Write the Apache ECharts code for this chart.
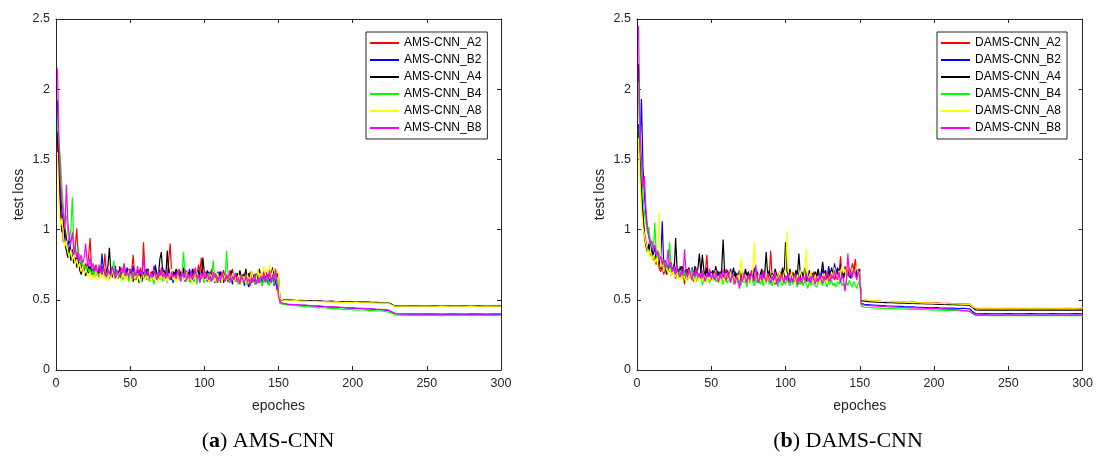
<!DOCTYPE html>
<html>
<head>
<meta charset="utf-8">
<script src="https://cdn.jsdelivr.net/npm/echarts@6/dist/echarts.min.js"></script>
<style>html,body{margin:0;padding:0;background:#fff;}#c{width:1096px;height:456px;}</style>
</head>
<body>
<div id="c"></div>
<script>
// ---------- tick labels / axes ----------
const xTicks = [0, 50, 100, 150, 200, 250, 300];
const yTicks = [0, 0.5, 1, 1.5, 2, 2.5];
const colors = ['#ff0000', '#0000ff', '#000000', '#00ff00', '#ffff00', '#ff00ff'];
const namesLeft = ['AMS-CNN_A2', 'AMS-CNN_B2', 'AMS-CNN_A4', 'AMS-CNN_B4', 'AMS-CNN_A8', 'AMS-CNN_B8'];
const namesRight = ['DAMS-CNN_A2', 'DAMS-CNN_B2', 'DAMS-CNN_A4', 'DAMS-CNN_B4', 'DAMS-CNN_A8', 'DAMS-CNN_B8'];

// epochs after 150 at which the (almost flat) tail values were read
const tailX = [151,153,156,159,162,165,168,171,174,177,180,183,186,189,192,195,198,201,204,207,210,213,216,219,222,
  224,226,228,230,
  235,240,245,250,255,260,265,270,275,280,285,290,295,300];

// ---------- (a) AMS-CNN, epochs 1..150 ----------
const L_A2 = [1.65,1.32,1.18,1.05,0.91,1.02,0.95,0.86,0.80,0.84,
0.78,0.82,0.88,1.01,0.79,0.74,0.77,0.72,0.70,0.76,
0.73,0.81,0.94,0.70,0.68,0.72,0.75,0.69,0.71,0.67,
0.74,0.70,0.83,0.68,0.72,0.66,0.70,0.73,0.67,0.69,
0.71,0.65,0.74,0.68,0.70,0.76,0.66,0.69,0.72,0.67,
0.70,0.82,0.68,0.64,0.71,0.67,0.73,0.65,0.91,0.69,
0.66,0.72,0.68,0.70,0.64,0.74,0.67,0.69,0.65,0.71,
0.68,0.73,0.66,0.70,0.64,0.78,0.90,0.67,0.70,0.65,
0.69,0.66,0.72,0.64,0.68,0.70,0.65,0.71,0.67,0.63,
0.69,0.66,0.72,0.68,0.64,0.75,0.70,0.80,0.67,0.65,
0.70,0.66,0.63,0.69,0.72,0.65,0.68,0.64,0.70,0.66,
0.62,0.68,0.71,0.65,0.67,0.63,0.69,0.66,0.72,0.64,
0.68,0.65,0.62,0.70,0.66,0.64,0.69,0.63,0.67,0.65,
0.70,0.62,0.66,0.68,0.63,0.67,0.64,0.69,0.62,0.66,
0.68,0.63,0.65,0.70,0.64,0.67,0.62,0.66,0.69,0.65];
const L_B2 = [1.92,1.55,1.30,1.12,1.05,0.98,0.92,0.88,0.95,0.83,
0.86,0.80,0.76,0.82,0.74,0.78,0.72,0.75,0.70,0.73,
0.69,0.74,0.71,0.68,0.72,0.66,0.70,0.67,0.73,0.69,
0.83,0.70,0.66,0.71,0.68,0.65,0.72,0.69,0.67,0.74,
0.66,0.70,0.68,0.64,0.71,0.67,0.69,0.73,0.65,0.70,
0.68,0.74,0.66,0.69,0.65,0.71,0.68,0.63,0.70,0.67,
0.72,0.66,0.69,0.64,0.70,0.67,0.75,0.65,0.68,0.71,
0.66,0.69,0.64,0.70,0.67,0.73,0.65,0.68,0.62,0.69,
0.71,0.66,0.68,0.64,0.70,0.67,0.63,0.69,0.66,0.72,
0.65,0.68,0.63,0.70,0.66,0.69,0.64,0.71,0.67,0.65,
0.68,0.63,0.70,0.66,0.64,0.69,0.62,0.67,0.65,0.70,
0.64,0.67,0.62,0.68,0.65,0.63,0.69,0.66,0.61,0.67,
0.64,0.68,0.62,0.66,0.63,0.67,0.60,0.65,0.62,0.59,
0.66,0.63,0.68,0.61,0.65,0.62,0.67,0.64,0.60,0.66,
0.63,0.67,0.61,0.65,0.62,0.68,0.60,0.64,0.57,0.63];
const L_A4 = [1.70,1.40,1.10,0.98,1.08,0.90,0.85,0.80,0.88,0.78,
0.82,0.76,0.80,0.73,0.77,0.71,0.68,0.74,0.70,0.67,
0.72,0.69,0.74,0.70,0.67,0.73,0.69,0.71,0.66,0.70,
0.68,0.72,0.67,0.70,0.74,0.87,0.69,0.66,0.71,0.68,
0.70,0.66,0.73,0.67,0.69,0.65,0.71,0.68,0.66,0.72,
0.67,0.63,0.69,0.66,0.71,0.62,0.68,0.70,0.65,0.69,
0.66,0.72,0.68,0.64,0.70,0.67,0.73,0.69,0.66,0.79,
0.84,0.68,0.71,0.66,0.85,0.69,0.67,0.64,0.70,0.67,
0.72,0.68,0.65,0.70,0.67,0.73,0.66,0.69,0.64,0.70,
0.67,0.72,0.65,0.69,0.66,0.71,0.68,0.65,0.80,0.69,
0.66,0.71,0.67,0.64,0.70,0.66,0.69,0.63,0.68,0.65,
0.70,0.66,0.63,0.69,0.65,0.68,0.64,0.71,0.66,0.67,
0.63,0.69,0.65,0.71,0.64,0.68,0.66,0.72,0.65,0.69,
0.64,0.70,0.66,0.63,0.69,0.65,0.72,0.67,0.64,0.70,
0.66,0.71,0.65,0.69,0.67,0.73,0.68,0.64,0.70,0.66];
const L_B4 = [1.75,1.62,1.50,1.30,1.15,1.05,1.10,0.98,0.92,1.00,
1.23,0.90,0.85,0.80,0.88,0.76,0.79,0.73,0.75,0.71,
0.74,0.70,0.72,0.68,0.71,0.66,0.73,0.69,0.67,0.70,
0.66,0.69,0.72,0.67,0.70,0.65,0.68,0.71,0.78,0.66,
0.69,0.65,0.70,0.67,0.64,0.71,0.66,0.68,0.63,0.69,
0.66,0.70,0.64,0.67,0.69,0.65,0.62,0.68,0.66,0.70,
0.64,0.67,0.63,0.69,0.66,0.61,0.68,0.65,0.70,0.64,
0.67,0.63,0.69,0.66,0.62,0.68,0.65,0.70,0.64,0.67,
0.63,0.69,0.66,0.64,0.70,0.84,0.67,0.63,0.68,0.65,
0.62,0.67,0.64,0.69,0.61,0.66,0.63,0.68,0.65,0.62,
0.67,0.64,0.69,0.63,0.66,0.78,0.65,0.62,0.68,0.64,
0.66,0.63,0.68,0.65,0.85,0.66,0.62,0.67,0.64,0.69,
0.63,0.66,0.61,0.68,0.64,0.62,0.67,0.65,0.60,0.66,
0.63,0.68,0.64,0.61,0.66,0.62,0.67,0.64,0.60,0.65,
0.62,0.67,0.63,0.60,0.66,0.64,0.61,0.67,0.63,0.65];
const L_A8 = [1.55,1.20,1.02,1.08,0.95,0.88,0.92,0.84,0.80,0.86,
0.78,0.82,0.75,0.79,0.73,0.76,0.70,0.74,0.68,0.72,
0.69,0.66,0.70,0.64,0.68,0.65,0.71,0.67,0.64,0.69,
0.66,0.70,0.64,0.68,0.63,0.69,0.66,0.72,0.65,0.67,
0.64,0.69,0.66,0.63,0.70,0.65,0.68,0.64,0.71,0.66,
0.63,0.68,0.65,0.70,0.64,0.67,0.62,0.69,0.66,0.64,
0.68,0.65,0.71,0.63,0.67,0.64,0.69,0.66,0.62,0.68,
0.65,0.70,0.64,0.67,0.63,0.69,0.66,0.72,0.64,0.67,
0.62,0.68,0.65,0.63,0.69,0.66,0.64,0.70,0.63,0.67,
0.65,0.61,0.68,0.64,0.70,0.66,0.63,0.69,0.65,0.71,
0.64,0.67,0.62,0.68,0.65,0.70,0.63,0.66,0.69,0.64,
0.67,0.62,0.68,0.65,0.63,0.70,0.66,0.64,0.69,0.62,
0.66,0.63,0.68,0.64,0.61,0.67,0.65,0.62,0.68,0.64,
0.66,0.71,0.63,0.67,0.64,0.72,0.66,0.69,0.65,0.74,
0.67,0.72,0.68,0.75,0.66,0.70,0.73,0.67,0.71,0.68];
const L_B8 = [2.15,1.62,1.35,1.20,1.10,1.00,1.32,1.05,0.95,0.90,
0.98,0.85,0.88,0.80,0.84,0.78,0.82,0.76,0.80,0.90,
0.77,0.74,0.80,0.72,0.76,0.70,0.73,0.69,0.75,0.71,
0.68,0.73,0.70,0.66,0.72,0.69,0.67,0.74,0.70,0.65,
0.71,0.68,0.66,0.73,0.69,0.75,0.67,0.70,0.66,0.72,
0.69,0.65,0.71,0.67,0.74,0.68,0.70,0.66,0.80,0.69,
0.67,0.71,0.65,0.69,0.66,0.72,0.68,0.64,0.70,0.67,
0.73,0.66,0.69,0.65,0.71,0.67,0.64,0.70,0.66,0.68,
0.65,0.71,0.67,0.63,0.69,0.66,0.72,0.64,0.68,0.65,
0.70,0.64,0.67,0.73,0.65,0.68,0.62,0.69,0.66,0.71,
0.65,0.69,0.64,0.67,0.63,0.70,0.66,0.68,0.62,0.67,
0.64,0.70,0.66,0.63,0.68,0.65,0.71,0.62,0.67,0.64,
0.69,0.63,0.66,0.61,0.68,0.64,0.62,0.67,0.63,0.65,
0.60,0.66,0.63,0.68,0.61,0.65,0.62,0.67,0.64,0.70,
0.63,0.68,0.65,0.71,0.62,0.67,0.64,0.72,0.61,0.52];

// (a) tails at tailX
const LT_A2 = [0.500,0.500,0.497,0.495,0.496,0.493,0.492,0.490,0.491,0.489,0.488,0.487,0.488,0.486,0.485,0.484,0.485,0.483,0.482,0.481,0.482,0.480,0.479,0.480,0.478,
0.477,0.468,0.458,0.457,
0.458,0.457,0.456,0.457,0.458,0.456,0.457,0.458,0.457,0.456,0.458,0.457,0.456,0.457];
const LT_B2 = [0.480,0.472,0.468,0.466,0.464,0.462,0.461,0.458,0.456,0.455,0.452,0.450,0.448,0.447,0.445,0.443,0.441,0.440,0.438,0.437,0.435,0.433,0.431,0.430,0.427,
0.425,0.415,0.405,0.400,
0.399,0.398,0.398,0.399,0.398,0.397,0.398,0.398,0.397,0.398,0.398,0.397,0.398,0.398];
const LT_A4 = [0.505,0.500,0.498,0.497,0.495,0.496,0.494,0.493,0.492,0.493,0.490,0.489,0.490,0.488,0.487,0.486,0.487,0.485,0.484,0.483,0.484,0.482,0.481,0.480,0.479,
0.478,0.470,0.457,0.455,
0.456,0.455,0.455,0.456,0.455,0.454,0.455,0.456,0.455,0.454,0.455,0.456,0.455,0.455];
const LT_B4 = [0.475,0.468,0.463,0.460,0.458,0.455,0.452,0.449,0.447,0.443,0.445,0.440,0.437,0.439,0.434,0.430,0.433,0.428,0.426,0.429,0.423,0.425,0.419,0.422,0.416,
0.414,0.405,0.395,0.390,
0.389,0.388,0.389,0.388,0.388,0.387,0.388,0.389,0.388,0.387,0.388,0.388,0.387,0.388];
const LT_A8 = [0.510,0.498,0.495,0.493,0.494,0.491,0.490,0.488,0.489,0.487,0.486,0.485,0.484,0.485,0.483,0.482,0.481,0.482,0.480,0.479,0.478,0.479,0.477,0.476,0.477,
0.476,0.465,0.455,0.454,
0.455,0.454,0.454,0.455,0.454,0.453,0.454,0.455,0.454,0.453,0.454,0.455,0.454,0.454];
const LT_B8 = [0.485,0.474,0.470,0.467,0.465,0.463,0.462,0.459,0.457,0.456,0.454,0.452,0.450,0.449,0.447,0.445,0.444,0.442,0.440,0.439,0.437,0.436,0.433,0.432,0.429,
0.427,0.416,0.404,0.401,
0.400,0.400,0.399,0.400,0.400,0.399,0.400,0.400,0.399,0.400,0.400,0.399,0.400,0.400];

// ---------- (b) DAMS-CNN, epochs 1..150 ----------
const R_A2 = [1.70,1.45,1.25,1.10,0.98,0.92,0.86,0.88,0.84,0.80,
0.83,0.78,0.75,0.80,0.72,0.70,0.74,0.68,0.71,0.76,
0.70,0.73,0.67,0.72,0.69,0.65,0.71,0.68,0.74,0.66,
0.70,0.61,0.68,0.72,0.65,0.69,0.67,0.63,0.70,0.66,
0.69,0.65,0.71,0.67,0.64,0.70,0.82,0.66,0.69,0.64,
0.68,0.65,0.71,0.63,0.67,0.70,0.64,0.68,0.66,0.72,
0.65,0.69,0.63,0.67,0.64,0.70,0.66,0.62,0.68,0.65,
0.70,0.64,0.67,0.62,0.69,0.65,0.71,0.63,0.67,0.64,
0.68,0.62,0.66,0.70,0.64,0.67,0.63,0.69,0.65,0.85,
0.66,0.63,0.68,0.64,0.62,0.67,0.65,0.70,0.63,0.66,
0.64,0.69,0.62,0.66,0.70,0.63,0.67,0.65,0.61,0.68,
0.64,0.66,0.62,0.69,0.65,0.63,0.67,0.64,0.70,0.66,
0.63,0.68,0.65,0.62,0.67,0.64,0.69,0.66,0.63,0.68,
0.65,0.70,0.64,0.67,0.72,0.66,0.81,0.68,0.65,0.74,
0.70,0.67,0.73,0.69,0.76,0.71,0.79,0.68,0.72,0.66];
const R_B2 = [1.75,1.55,1.93,1.45,1.25,1.10,1.00,0.95,0.90,0.86,
0.82,0.88,0.78,0.84,0.76,0.80,1.06,0.74,0.78,0.72,
0.75,0.70,0.73,0.69,0.76,0.71,0.68,0.72,0.67,0.70,
0.74,0.68,0.71,0.66,0.70,0.67,0.73,0.69,0.65,0.71,
0.68,0.66,0.70,0.64,0.69,0.67,0.72,0.65,0.68,0.70,
0.66,0.69,0.64,0.71,0.67,0.65,0.70,0.66,0.68,0.63,
0.69,0.66,0.72,0.64,0.67,0.70,0.65,0.68,0.63,0.69,
0.66,0.64,0.70,0.67,0.63,0.68,0.65,0.71,0.64,0.67,
0.62,0.68,0.65,0.70,0.63,0.66,0.69,0.64,0.67,0.62,
0.68,0.65,0.61,0.67,0.64,0.70,0.66,0.63,0.69,0.65,
0.67,0.63,0.69,0.65,0.62,0.68,0.64,0.71,0.66,0.63,
0.68,0.65,0.70,0.63,0.67,0.64,0.69,0.66,0.62,0.68,
0.65,0.70,0.63,0.67,0.72,0.66,0.69,0.64,0.74,0.68,
0.71,0.66,0.76,0.69,0.73,0.67,0.75,0.70,0.66,0.72,
0.68,0.74,0.70,0.65,0.71,0.68,0.73,0.67,0.70,0.72];
const R_A4 = [2.18,1.60,1.30,1.12,0.95,0.88,0.84,0.90,0.82,0.86,
0.80,0.77,0.83,0.74,0.78,0.72,0.76,0.70,0.74,0.68,
0.72,0.75,0.70,0.73,0.69,0.94,0.72,0.68,0.71,0.74,
0.70,0.67,0.72,0.69,0.73,0.68,0.71,0.66,0.74,0.70,
0.72,0.83,0.69,0.82,0.71,0.67,0.73,0.68,0.70,0.66,
0.71,0.68,0.74,0.67,0.70,0.66,0.72,0.93,0.69,0.67,
0.71,0.66,0.70,0.68,0.73,0.65,0.69,0.67,0.71,0.64,
0.68,0.66,0.72,0.67,0.70,0.64,0.69,0.66,0.73,0.67,
0.70,0.65,0.68,0.72,0.66,0.69,0.84,0.67,0.71,0.65,
0.69,0.66,0.72,0.68,0.64,0.70,0.67,0.73,0.66,0.91,
0.70,0.67,0.72,0.65,0.69,0.66,0.71,0.68,0.83,0.67,
0.70,0.66,0.73,0.68,0.65,0.71,0.67,0.69,0.64,0.70,
0.67,0.72,0.66,0.69,0.77,0.68,0.71,0.65,0.70,0.67,
0.73,0.68,0.71,0.66,0.69,0.72,0.67,0.70,0.65,0.71,
0.68,0.72,0.66,0.70,0.67,0.73,0.69,0.66,0.71,0.68];
const R_B4 = [2.05,1.65,1.42,1.25,1.12,1.05,0.98,1.02,0.92,0.88,
0.85,1.05,0.82,0.79,0.84,0.76,0.80,0.73,0.77,0.71,
0.74,0.91,0.72,0.69,0.73,0.67,0.70,0.66,0.71,0.68,
0.65,0.70,0.67,0.64,0.69,0.66,0.72,0.65,0.68,0.63,
0.67,0.64,0.69,0.60,0.66,0.63,0.68,0.65,0.62,0.67,
0.64,0.69,0.63,0.66,0.62,0.68,0.65,0.61,0.67,0.64,
0.62,0.66,0.63,0.68,0.61,0.65,0.62,0.67,0.63,0.60,
0.66,0.62,0.64,0.59,0.65,0.62,0.67,0.63,0.60,0.65,
0.62,0.66,0.61,0.64,0.60,0.65,0.62,0.67,0.61,0.63,
0.60,0.65,0.62,0.64,0.59,0.66,0.62,0.60,0.64,0.61,
0.65,0.62,0.60,0.64,0.61,0.66,0.62,0.59,0.64,0.61,
0.63,0.60,0.65,0.61,0.58,0.63,0.60,0.64,0.61,0.62,
0.59,0.64,0.61,0.63,0.60,0.65,0.62,0.59,0.63,0.61,
0.64,0.60,0.62,0.59,0.63,0.61,0.65,0.60,0.62,0.58,
0.63,0.60,0.64,0.61,0.59,0.63,0.60,0.58,0.62,0.64];
const R_A8 = [1.65,1.35,1.15,1.02,0.96,0.90,0.85,0.81,0.86,0.78,
0.82,0.76,0.80,0.74,1.12,0.73,0.77,0.70,0.74,0.72,
0.69,0.73,0.67,0.71,0.68,0.66,0.70,0.64,0.68,0.65,
0.69,0.66,0.63,0.68,0.65,0.70,0.64,0.67,0.62,0.66,
0.69,0.64,0.67,0.63,0.68,0.65,0.62,0.67,0.64,0.69,
0.63,0.66,0.71,0.64,0.67,0.62,0.68,0.65,0.63,0.69,
0.66,0.64,0.70,0.63,0.67,0.65,0.62,0.68,0.64,0.80,
0.66,0.63,0.68,0.65,0.62,0.67,0.64,0.70,0.91,0.66,
0.64,0.68,0.63,0.67,0.65,0.62,0.69,0.64,0.67,0.63,
0.68,0.65,0.62,0.67,0.64,0.70,0.66,0.63,0.69,0.72,
0.99,0.68,0.65,0.70,0.64,0.67,0.62,0.68,0.65,0.71,
0.66,0.63,0.69,0.86,0.67,0.64,0.70,0.65,0.62,0.68,
0.64,0.67,0.61,0.66,0.63,0.69,0.65,0.62,0.67,0.64,
0.70,0.66,0.73,0.68,0.64,0.71,0.67,0.74,0.69,0.72,
0.66,0.75,0.70,0.68,0.73,0.66,0.71,0.74,0.67,0.70];
const R_B8 = [2.45,1.75,1.50,1.30,1.38,1.15,1.02,0.95,0.90,0.92,
0.86,0.89,0.82,0.85,0.78,0.81,0.75,0.79,0.72,0.76,
0.86,0.73,0.77,0.70,0.74,0.68,0.72,0.69,0.66,0.71,
0.67,0.86,0.70,0.66,0.72,0.68,0.64,0.70,0.67,0.73,
0.66,0.69,0.65,0.71,0.67,0.63,0.69,0.66,0.72,0.65,
0.68,0.64,0.70,0.66,0.63,0.69,0.65,0.72,0.67,0.64,
0.70,0.66,0.62,0.68,0.65,0.61,0.67,0.64,0.58,0.66,
0.63,0.69,0.65,0.62,0.68,0.64,0.70,0.66,0.63,0.75,
0.65,0.62,0.68,0.64,0.71,0.66,0.63,0.69,0.65,0.62,
0.67,0.64,0.70,0.61,0.66,0.63,0.68,0.65,0.62,0.67,
0.64,0.69,0.62,0.66,0.63,0.68,0.65,0.61,0.67,0.64,
0.62,0.67,0.64,0.69,0.63,0.66,0.62,0.68,0.65,0.61,
0.66,0.63,0.69,0.64,0.62,0.67,0.64,0.70,0.66,0.63,
0.68,0.65,0.71,0.67,0.64,0.70,0.62,0.68,0.65,0.56,
0.64,0.83,0.67,0.70,0.66,0.73,0.68,0.64,0.71,0.66];

// (b) tails at tailX
const RT_A2 = [0.500,0.497,0.494,0.492,0.490,0.488,0.487,0.485,0.486,0.484,0.483,0.482,0.484,0.480,0.479,0.478,0.477,0.478,0.476,0.475,0.474,0.473,0.472,0.471,0.470,
0.469,0.452,0.440,0.438,
0.439,0.438,0.438,0.439,0.438,0.437,0.438,0.439,0.438,0.437,0.438,0.439,0.438,0.438];
const RT_B2 = [0.475,0.468,0.465,0.463,0.461,0.459,0.457,0.456,0.454,0.453,0.451,0.450,0.449,0.447,0.446,0.445,0.443,0.444,0.442,0.441,0.440,0.441,0.438,0.440,0.437,
0.436,0.415,0.402,0.400,
0.401,0.400,0.400,0.401,0.400,0.400,0.401,0.400,0.400,0.401,0.400,0.400,0.401,0.400];
const RT_A4 = [0.495,0.490,0.487,0.485,0.483,0.482,0.480,0.479,0.478,0.477,0.476,0.475,0.474,0.473,0.472,0.471,0.470,0.469,0.468,0.467,0.466,0.465,0.464,0.463,0.462,
0.460,0.445,0.428,0.427,
0.427,0.426,0.427,0.426,0.426,0.427,0.426,0.426,0.427,0.426,0.426,0.427,0.426,0.426];
const RT_B4 = [0.455,0.448,0.445,0.443,0.441,0.440,0.438,0.437,0.436,0.435,0.434,0.433,0.432,0.431,0.430,0.429,0.428,0.427,0.426,0.425,0.424,0.423,0.422,0.421,0.420,
0.418,0.400,0.389,0.388,
0.388,0.387,0.388,0.387,0.388,0.387,0.388,0.387,0.388,0.387,0.388,0.387,0.388,0.387];
const RT_A8 = [0.505,0.499,0.495,0.493,0.491,0.489,0.488,0.486,0.485,0.484,0.483,0.481,0.480,0.479,0.478,0.477,0.476,0.475,0.474,0.473,0.472,0.471,0.470,0.469,0.468,
0.467,0.450,0.442,0.441,
0.442,0.441,0.441,0.442,0.441,0.440,0.441,0.442,0.441,0.440,0.441,0.442,0.441,0.442];
const RT_B8 = [0.468,0.462,0.459,0.457,0.455,0.453,0.451,0.450,0.448,0.447,0.445,0.444,0.443,0.441,0.440,0.439,0.437,0.438,0.435,0.434,0.432,0.430,0.428,0.425,0.422,
0.418,0.405,0.392,0.391,
0.391,0.390,0.391,0.390,0.391,0.390,0.391,0.390,0.391,0.390,0.391,0.390,0.391,0.390];

const leftHeads = [L_A2, L_B2, L_A4, L_B4, L_A8, L_B8];
const leftTails = [LT_A2, LT_B2, LT_A4, LT_B4, LT_A8, LT_B8];
const rightHeads = [R_A2, R_B2, R_A4, R_B4, R_A8, R_B8];
const rightTails = [RT_A2, RT_B2, RT_A4, RT_B4, RT_A8, RT_B8];

function build(head, tail) {
  const d = [];
  head.forEach((v, i) => d.push([i + 1, v]));
  tailX.forEach((x, i) => { if (tail[i] != null) d.push([x, tail[i]]); });
  return d;
}

const TXT = '#262626';
const FONT = '"Liberation Sans", Arial, sans-serif';
const grids = [
  { left: 56, top: 19, width: 445, height: 351 },
  { left: 637, top: 19, width: 446, height: 351 }
];

function xAx(g, pos) {
  return {
    type: 'value', gridIndex: g, position: pos, min: xTicks[0], max: xTicks[xTicks.length - 1], interval: 50,
    name: pos === 'bottom' ? 'epoches' : '', nameLocation: 'middle', nameGap: 29,
    nameTextStyle: { fontFamily: FONT, fontSize: 14, color: TXT },
    axisLine: { show: true, onZero: false, lineStyle: { color: TXT, width: 1 } },
    axisTick: { show: true, inside: true, length: 4, lineStyle: { color: TXT } },
    axisLabel: { show: pos === 'bottom', margin: 7, fontFamily: FONT, fontSize: 12.5, color: TXT },
    splitLine: { show: false }
  };
}
function yAx(g, pos) {
  return {
    type: 'value', gridIndex: g, position: pos, min: yTicks[0], max: yTicks[yTicks.length - 1], interval: 0.5,
    name: pos === 'left' ? 'test loss' : '', nameLocation: 'middle', nameGap: 30,
    nameTextStyle: { fontFamily: FONT, fontSize: 14, color: TXT },
    axisLine: { show: true, onZero: false, lineStyle: { color: TXT, width: 1 } },
    axisTick: { show: true, inside: true, length: 4, lineStyle: { color: TXT } },
    axisLabel: { show: pos === 'left', margin: 6, fontFamily: FONT, fontSize: 12.5, color: TXT },
    splitLine: { show: false }
  };
}

const series = [];
namesLeft.forEach((n, i) => series.push({
  name: n, type: 'line', xAxisIndex: 0, yAxisIndex: 0, data: build(leftHeads[i], leftTails[i]),
  symbol: 'none', lineStyle: { width: 1.2, color: colors[i] }, itemStyle: { color: colors[i] }, silent: true
}));
namesRight.forEach((n, i) => series.push({
  name: n, type: 'line', xAxisIndex: 2, yAxisIndex: 2, data: build(rightHeads[i], rightTails[i]),
  symbol: 'none', lineStyle: { width: 1.2, color: colors[i] }, itemStyle: { color: colors[i] }, silent: true
}));

function legend(names, left) {
  return {
    data: names, orient: 'vertical', left: left, top: 32, icon: 'rect', itemWidth: 29, itemHeight: 2,
    itemGap: 3, padding: [4, 6, 4, 4], borderColor: TXT, borderWidth: 1, backgroundColor: '#fff',
    selectedMode: false,
    textStyle: { fontFamily: FONT, fontSize: 12, color: '#000', lineHeight: 14 }
  };
}

const chart = echarts.init(document.getElementById('c'), null, { renderer: 'canvas' });
chart.setOption({
  animation: false,
  backgroundColor: '#fff',
  grid: grids,
  xAxis: [xAx(0, 'bottom'), xAx(0, 'top'), xAx(1, 'bottom'), xAx(1, 'top')],
  yAxis: [yAx(0, 'left'), yAx(0, 'right'), yAx(1, 'left'), yAx(1, 'right')],
  legend: [legend(namesLeft, 366), legend(namesRight, 937)],
  series: series,
  graphic: [
    { type: 'text', x: 268, y: 441, style: {
      text: '{p|(}{b|a}{p|) AMS-CNN}', align: 'center', verticalAlign: 'middle',
      rich: { p: { fontFamily: '"Liberation Serif", serif', fontSize: 22, fill: '#000' },
              b: { fontFamily: '"Liberation Serif", serif', fontSize: 22, fontWeight: 'bold', fill: '#000' } } } },
    { type: 'text', x: 848, y: 441, style: {
      text: '{p|(}{b|b}{p|) DAMS-CNN}', align: 'center', verticalAlign: 'middle',
      rich: { p: { fontFamily: '"Liberation Serif", serif', fontSize: 22, fill: '#000' },
              b: { fontFamily: '"Liberation Serif", serif', fontSize: 22, fontWeight: 'bold', fill: '#000' } } } }
  ]
});
</script>
</body>
</html>
